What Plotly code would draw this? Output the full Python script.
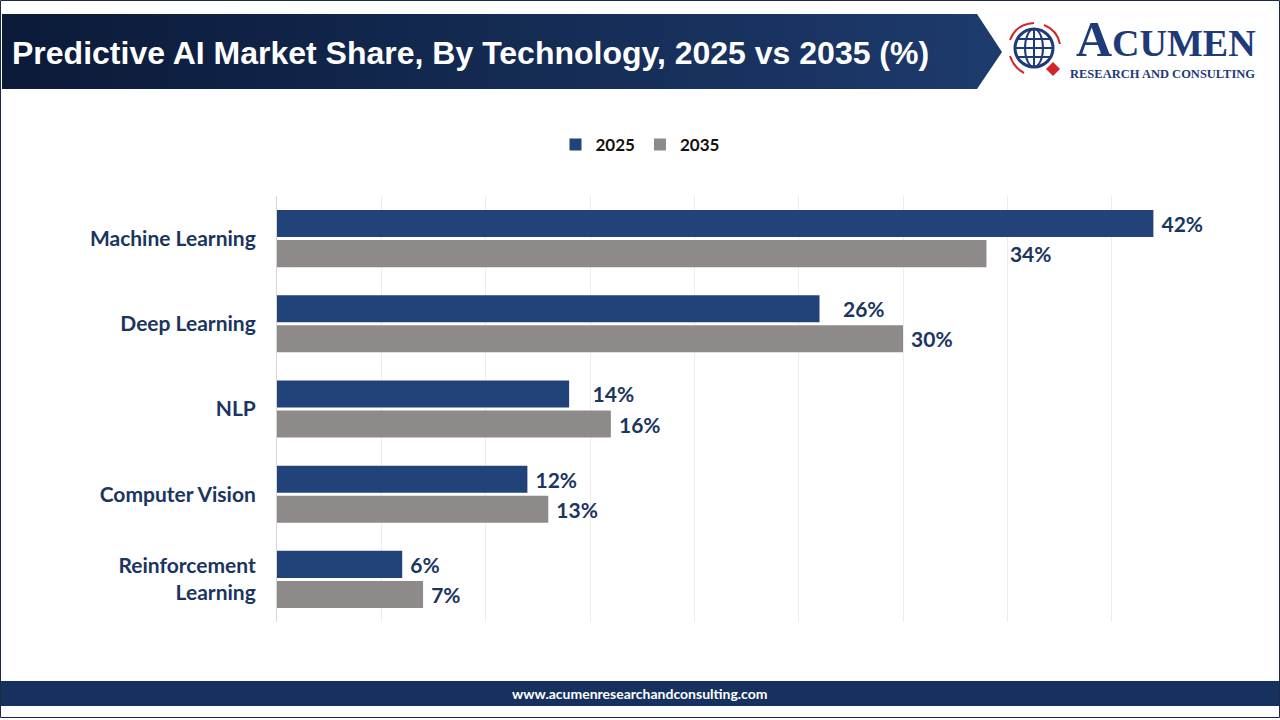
import plotly.graph_objects as go

categories = ["Machine Learning", "Deep Learning", "NLP", "Computer Vision", "Reinforcement<br>Learning"]
values_2025 = [42, 26, 14, 12, 6]
values_2035 = [34, 30, 16, 13, 7]
series_names = ["2025", "2035"]

W, H = 1280, 720
def px(x):
    return x / W
def py(y):
    return 1 - y / H

NAVY = "#1a3560"
TICK_FONT = dict(family="Lato, 'Open Sans', sans-serif", size=21, color=NAVY, weight=700)
LABEL_FONT = dict(family="Lato, 'Open Sans', sans-serif", size=21, color=NAVY, weight=700)

# extra label spacing (style only): number of non-breaking spaces before each label
pad_2025 = [1, 4, 4, 1, 1]
pad_2035 = [4, 1, 1, 1, 1]

def labels(vals, pads):
    return ["\u00a0" * p + f"{v}%" for v, p in zip(vals, pads)]

fig = go.Figure()
fig.add_trace(go.Bar(
    y=categories, x=values_2025, name=series_names[0], orientation="h",
    marker=dict(color="#22437a", line=dict(width=0)),
    text=labels(values_2025, pad_2025), textposition="outside",
    textfont=LABEL_FONT, cliponaxis=False, hoverinfo="skip",
))
fig.add_trace(go.Bar(
    y=categories, x=values_2035, name=series_names[1], orientation="h",
    marker=dict(color="#8e8a8a", line=dict(width=0)),
    text=labels(values_2035, pad_2035), textposition="outside",
    textfont=LABEL_FONT, cliponaxis=False, hoverinfo="skip",
))

# Header band with horizontal gradient (overlay axes in pixel space)
hx = [2, 977, 1002, 977, 2, 2]
hy = [14, 14, 52, 89, 89, 14]
fig.add_trace(go.Scatter(
    x=hx, y=hy, xaxis="x2", yaxis="y2", mode="lines", fill="toself",
    line=dict(width=0, color="rgba(0,0,0,0)"),
    fillgradient=dict(type="horizontal", colorscale=[[0, "#0b1a38"], [1, "#1d3b6d"]]),
    showlegend=False, hoverinfo="skip",
))

shapes = []
# outer frame
shapes.append(dict(type="rect", xref="paper", yref="paper", x0=px(0.5), x1=px(1279.5), y0=py(0.5), y1=py(717.5),
                   line=dict(color="#1b2a44", width=1), fillcolor="rgba(0,0,0,0)", layer="above"))
# footer band
shapes.append(dict(type="rect", xref="paper", yref="paper", x0=px(1), x1=px(1279), y0=py(681), y1=py(706),
                   line=dict(width=0), fillcolor="#16315d", layer="below"))
# logo globe
gx, gy, gr = 1034, 48, 19
shapes.append(dict(type="circle", xref="paper", yref="paper", x0=px(gx - gr), x1=px(gx + gr), y0=py(gy + gr), y1=py(gy - gr),
                   line=dict(color="#1e3a78", width=3), fillcolor="rgba(0,0,0,0)"))
shapes.append(dict(type="circle", xref="paper", yref="paper", x0=px(gx - 9), x1=px(gx + 9), y0=py(gy + gr), y1=py(gy - gr),
                   line=dict(color="#1e3a78", width=2), fillcolor="rgba(0,0,0,0)"))
for dy in (-9, 0, 9):
    half = (gr**2 - dy**2) ** 0.5
    shapes.append(dict(type="line", xref="paper", yref="paper", x0=px(gx - half), x1=px(gx + half), y0=py(gy + dy), y1=py(gy + dy),
                       line=dict(color="#1e3a78", width=2)))
shapes.append(dict(type="line", xref="paper", yref="paper", x0=px(gx), x1=px(gx), y0=py(gy - gr), y1=py(gy + gr),
                   line=dict(color="#1e3a78", width=2)))
# red arcs and diamond
shapes.append(dict(type="path", xref="paper", yref="paper",
                   path=f"M {px(1010)},{py(40)} Q {px(1016)},{py(24)} {px(1034)},{py(23)}",
                   line=dict(color="#d0262c", width=2)))
shapes.append(dict(type="path", xref="paper", yref="paper",
                   path=f"M {px(1044)},{py(25)} Q {px(1057)},{py(30)} {px(1060)},{py(44)}",
                   line=dict(color="#d0262c", width=2)))
shapes.append(dict(type="path", xref="paper", yref="paper",
                   path=f"M {px(1010)},{py(56)} Q {px(1014)},{py(68)} {px(1024)},{py(73)}",
                   line=dict(color="#d0262c", width=2)))
shapes.append(dict(type="path", xref="paper", yref="paper",
                   path=f"M {px(1053)},{py(62)} L {px(1060)},{py(69)} L {px(1053)},{py(76)} L {px(1046)},{py(69)} Z",
                   fillcolor="#d0262c", line=dict(width=0)))

annotations = [
    dict(text="Predictive AI Market Share, By Technology, 2025 vs 2035 (%)", xref="paper", yref="paper",
         x=px(10), y=py(53), xanchor="left", yanchor="middle", showarrow=False,
         font=dict(family="Liberation Sans, Arial, sans-serif", size=32, color="white", weight=700)),
    dict(text="<span style='font-size:50px'>A</span>CUMEN", xref="paper", yref="paper",
         x=px(1074), y=py(69), xanchor="left", yanchor="bottom", showarrow=False,
         font=dict(family="Liberation Serif, 'Times New Roman', serif", size=38, color="#1e3a78", weight=700)),
    dict(text="RESEARCH AND CONSULTING", xref="paper", yref="paper",
         x=px(1068), y=py(74), xanchor="left", yanchor="middle", showarrow=False,
         font=dict(family="Liberation Serif, 'Times New Roman', serif", size=12.5, color="#1e3a78", weight=700)),
    dict(text="www.acumenresearchandconsulting.com", xref="paper", yref="paper",
         x=0.5, y=py(693), xanchor="center", yanchor="middle", showarrow=False,
         font=dict(family="Lato, 'Open Sans', sans-serif", size=14, color="white", weight=700)),
]

fig.update_layout(
    width=W, height=H,
    margin=dict(l=0, r=0, t=0, b=0),
    paper_bgcolor="white", plot_bgcolor="rgba(0,0,0,0)",
    barmode="group", bargap=0.294, bargroupgap=0.1,
    showlegend=True,
    legend=dict(orientation="h", x=0.5, xanchor="center", y=py(145), yanchor="middle",
                font=dict(family="Lato, 'Open Sans', sans-serif", size=17, color="#111111", weight=700),
                itemwidth=30, traceorder="normal", bgcolor="rgba(0,0,0,0)"),
    xaxis=dict(domain=[px(277), px(1216)], range=[0, 45], dtick=5, showgrid=True, gridcolor="#ededed",
               gridwidth=1, showticklabels=False, zeroline=False, showline=False, fixedrange=True),
    yaxis=dict(domain=[py(622), py(196)], autorange="reversed", showgrid=False, showline=True,
               linecolor="#d6d6d6", linewidth=1, ticks="", ticklabelstandoff=16,
               tickfont=TICK_FONT, fixedrange=True),
    xaxis2=dict(domain=[0, 1], range=[0, W], visible=False, fixedrange=True, anchor="y2"),
    yaxis2=dict(domain=[0, 1], range=[H, 0], visible=False, fixedrange=True, anchor="x2"),
    shapes=shapes,
    annotations=annotations,
)

fig.write_html("out.html")
